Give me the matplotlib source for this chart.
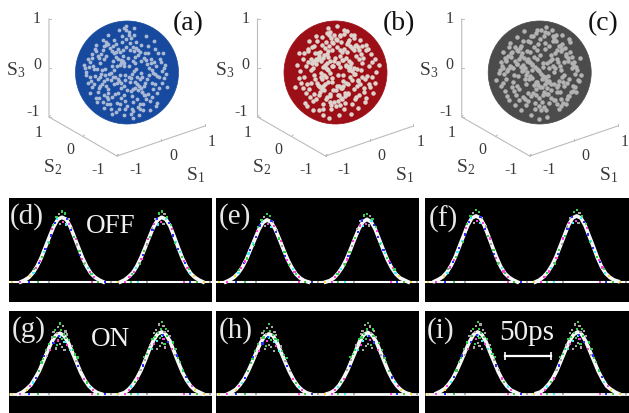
import matplotlib
matplotlib.use("Agg")
import matplotlib.pyplot as plt
from matplotlib.patches import Circle

plt.rcParams['font.family'] = ['Liberation Serif', 'DejaVu Serif']
plt.rcParams['mathtext.fontset'] = 'custom'
plt.rcParams['mathtext.rm'] = 'Liberation Serif'
plt.rcParams['mathtext.it'] = 'Liberation Serif'

W, H = 629, 413

# ---------- Poincare sphere data ----------
tick_values = [-1, 0, 1]
sphere_labels = ['(a)', '(b)', '(c)']

# light gaps on each sphere, percent of radius (x right, y up)
gaps_a = [(-11,18),(-8,22),(-14,14),(-5,12),(54,-3),(58,-6),(50,-1),(12,-33),(16,-30),(8,-35),(34,-44),(30,-38),(27,-31),
 (18,47),(22,44),(26,40),(12,50),(-1,82),(3,78),(-5,86),(-40,60),(-36,56),(-44,52),(-30,41),(-25,37),(-21,30),(-17,27),
 (-61,42),(-57,33),(-67,29),(-73,11),(-65,7),(-59,6),(-51,-3),(-43,-5),(-39,-12),(-31,-1),(-23,-9),(-17,-13),(-11,-21),
 (-3,-15),(3,-9),(9,-3),(13,3),(66,21),(71,9),(75,-3),(-79,-5),(-81,9),(31,-61),(21,-67),(11,-75),(7,-81),(-3,-71),(-13,-61),
 (-29,-47),(-37,-39),(-53,-27),(-69,-17),(-55,-49),(-47,-57),(-39,-61),(-31,-71),(-21,-77)]

gaps_b = [(-18,8),(-14,4),(-10,0),(-20,14),(-24,10),(28,6),(32,2),(24,10),(36,8),(20,14),(38,-2),(10,-30),(14,-26),(-30,-28),(-26,-32),
 (-34,-24),(-42,22),(-46,18),(-38,26),(-33,33),(-31,39),(-21,47),(-13,51),(-7,59),(3,63),(9,73),(17,75),(23,81),(31,73),(35,67),
 (-27,69),(-17,77),(-11,79),(-35,61),(-45,49),(-53,41),(4,18),(-2,22),(-6,12),(2,-26),(-4,-34),(-10,-42),(-16,-48),(6,-44),(12,-52),(18,-46),
 (24,-40),(-2,-58),(-8,-64),(8,-64),(44,50),(52,52),(60,44),(38,52),(24,60),(14,24),(20,28),(30,18),(8,10),(44,-14),(-22,-4),(-16,36),(-24,28),(36,44)]

gaps_c = [(-10,10),(-6,6),(-2,2),(-14,14),(2,-2),(6,-7),(11,-9),(13,-15),(19,-17),(21,-23),(-18,20),(-23,27),(-31,29),(-35,37),(-43,41),
 (-47,49),(-53,39),(-61,33),(-65,25),(-73,13),(-77,5),(-69,-3),(-63,3),(-55,11),(-45,17),(-37,11),(-33,5),(-25,1),(-19,-7),(-15,-11),
 (-7,-19),(-3,-25),(5,-29),(9,-37),(17,-41),(21,-49),(29,-53),(33,-61),(41,-65),(45,-59),(53,-51),(57,-45),(65,-35),(69,-29),(77,-17),
 (81,-5),(73,5),(67,13),(63,19),(55,29),(51,35),(43,45),(39,51),(31,61),(27,67),(17,77),(11,79),(3,83),(-7,77),(-13,71),(-23,61)]
sphere_gaps = [gaps_a, gaps_b, gaps_c]

# further gaps, irregular field shared across the spheres with a flip per sphere
gaps_field = [(-47,63),(-13,39),(37,71),(-71,21),(5,57),(61,37),(-29,13),(43,9),(-57,-13),(19,-9),(-5,-43),(33,-27),(-41,-27),(71,-11),(-19,-59),(49,-47),
 (15,31),(-33,47),(-63,45),(27,53),(-9,71),(57,13),(-49,5),(1,29),(39,-13),(-25,-23),(11,-57),(-67,-29),(25,-71),(63,-31),(-37,-51),(-79,1),
 (-2,49),(47,27),(-22,56),(34,38),(-54,28),(8,67),(-40,32),(68,3),(-28,-8),(22,-34),(-12,-31),(41,-41),(-62,-6),(-6,-83),(55,-23),(-45,-43),
 (17,6),(-35,-2),(29,-9),(-8,33),(-18,-39),(6,-18),(46,18),(-52,18),(-71,-9),(36,24),(-26,64),(14,41),(3,73),(-60,54),(74,14),(59,-59),
 (-16,-70),(37,-51),(-44,-68),(12,-88),(-30,-80),(24,-82),(44,-72),(-76,-20),(-84,14),(78,-28),(70,38),(-68,36),(52,62),(-16,82),(14,86),(-36,72),
 (28,22),(-4,-4),(20,-22),(-44,-16),(-12,25),(33,-44),(-27,22),(10,-45),(-50,36),(42,-4),(-20,-20),(26,-12),(48,4),(-36,-32),(0,-66),(62,-8),
 (18,60),(-10,60),(-56,-37),(32,-72),(-24,-42),(54,46),(6,44),(-42,7),(-66,12),(67,-21),(-4,-56),(40,38),(-17,46),(24,-26),(-32,-15),(58,-40),
 (-48,-22),(4,12),(16,18),(-6,-27),(30,-37),(-14,-5),(11,23),(-40,54),(-1,65),(48,-20),(-22,40),(9,-71),(-58,-58),(-8,43),(22,34),(35,-20),
 (-39,-47),(-72,-40),(51,-33),(-33,-62),(41,51),(-52,-8),(-26,4),(7,-10),(28,-1),(-11,-50),(19,-52),(64,26),(-76,26),(-46,44),(13,72),(-2,90),
 (-28,52),(44,-56),(-60,-50),(56,-65),(-20,12),(38,16),(-15,-16),(0,-34),(-45,26),(25,-62),(-55,-31),(-65,-22),(15,-19),(33,29),(-5,18),(53,21)]
field_flip = [(1, 1), (-1, 1), (1, -1)]

# ---------- Pulse trace data ----------
panel_labels = ['(d)', '(e)', '(f)', '(g)', '(h)', '(i)']
offset_ps = [-45,-40.5,-36,-31.5,-27,-22.5,-18,-13.5,-9,-4.5,0,4.5,9,13.5,18,22.5,27,31.5,36,40.5,45]
peak_times = [(57.6,166.0),(55.4,164.1),(55.4,164.9),(55.4,166.0),(57.6,165.2),(57.3,166.0)]
pulse_d1 = [0,.03,.07,.14,.24,.37,.53,.69,.84,.95,.98,.95,.84,.68,.52,.36,.23,.13,.07,.03,0]
pulse_d2 = [0,.03,.08,.14,.24,.37,.52,.68,.83,.94,.98,.95,.85,.69,.52,.36,.23,.13,.07,.03,0]
pulse_e1 = [0,.03,.07,.13,.22,.34,.49,.64,.79,.90,.94,.91,.80,.65,.49,.34,.22,.12,.06,.02,0]
pulse_e2 = [0,.02,.06,.13,.22,.34,.49,.65,.80,.91,.95,.91,.80,.64,.48,.33,.21,.12,.06,.03,0]
pulse_f1 = [.01,.04,.08,.15,.25,.38,.54,.70,.86,.97,1.0,.97,.86,.70,.53,.37,.23,.13,.07,.03,0]
pulse_f2 = [0,.03,.08,.15,.25,.38,.54,.70,.86,.97,1.0,.97,.86,.70,.54,.37,.23,.13,.07,.03,.01]
pulse_g1 = [0,.03,.08,.14,.24,.35,.50,.65,.79,.89,.92,.88,.78,.63,.48,.33,.21,.12,.06,.02,0]
pulse_g2 = [0,.02,.07,.14,.24,.36,.51,.67,.81,.91,.94,.90,.80,.64,.48,.33,.21,.12,.06,.03,0]
pulse_h1 = [0,.03,.07,.14,.23,.35,.49,.64,.78,.88,.91,.88,.77,.62,.47,.33,.21,.12,.06,.02,0]
pulse_h2 = [0,.02,.06,.13,.23,.35,.50,.65,.80,.90,.93,.89,.79,.64,.48,.33,.21,.12,.06,.02,0]
pulse_i1 = [.01,.04,.08,.15,.24,.36,.50,.65,.79,.90,.94,.90,.79,.63,.48,.33,.21,.12,.06,.03,0]
pulse_i2 = [.01,.03,.08,.15,.24,.36,.51,.66,.80,.90,.94,.90,.79,.64,.49,.34,.22,.12,.07,.03,0]
pulses = [(pulse_d1,pulse_d2),(pulse_e1,pulse_e2),(pulse_f1,pulse_f2),
          (pulse_g1,pulse_g2),(pulse_h1,pulse_h2),(pulse_i1,pulse_i2)]

# noise specks round a peak: (offset ps, amplitude, colour)
G, B, M, Y, C, K, D = '#35d050', '#2a30ff', '#ff40e0', '#f0e040', '#40f0ff', '#a8a8a8', '#000000'
specks_off = [(0,1.09,G),(-3,1.05,K),(3,1.06,G),(-6,1.0,G),(7,.97,K),(1,.93,M),(-2,.90,K),(4,.89,C),(-10,.88,G),(11,.84,K),
 (-12,.72,B),(13,.70,G),(-15,.62,C),(16,.58,K),(-18,.51,B),(19,.48,G),(-22,.38,G),(22,.36,M),(-25,.30,B),(25,.29,K),
 (-28,.22,M),(28,.21,C),(-31,.14,C),(32,.13,G),(-35,.09,Y),(35,.08,M),(5,.98,B),(-5,.97,C),(-8,.91,B),(8,.90,M),
 (-14,.60,G),(-11,.82,M),(10,.80,B),(15,.66,M),(-20,.46,C),(20,.42,B),(-24,.33,M),(24,.28,G),(-30,.20,G),(30,.16,M)]
specks_on = [(0,1.16,G),(-2,1.10,K),(3,1.12,K),(1,1.05,G),(-5,1.05,G),(6,1.03,K),(-3,1.0,K),(4,.98,G),(0,.94,C),(-6,.94,G),(7,.92,G),
 (0,.82,K),(2,.78,K),(-3,.80,G),(-9,.93,K),(10,.89,G),(-12,.83,G),(13,.79,K),(-15,.72,G),(16,.65,G),(-17,.62,B),(18,.55,K),(-20,.52,G),
 (20,.46,B),(-23,.38,G),(23,.39,K),(-26,.27,B),(26,.25,M),(-29,.19,C),(29,.19,G),(-33,.13,M),(33,.12,C),(-36,.07,Y),(36,.07,M),(-7,.84,B),
 (8,.80,M),(-11,.72,M),(11,.72,C),(-14,.63,K),(14,.72,G),(-2,.88,M),(5,.86,C),(-7,1.02,K),(8,.98,K),(-4,.75,K),(5,.72,K),(-18,.58,G),(19,.60,G),(-1,.95,B),(2,.90,G)]
baseline_times = [3,12,22,31,44,90,97,104,111,118,126,133,140,150,190,197,204,212,218]
baseline_cols = [Y,M,B,G,K,M,G,B,K,Y,M,G,C,K,M,B,G,Y,K]

# ---------- Helpers ----------
fig = plt.figure(figsize=(W/100, H/100), dpi=100, facecolor='white')

def put(x, y, s, **kw):
    kw.setdefault('ha', 'center'); kw.setdefault('va', 'center')
    fig.text(x/W, 1-y/H, s, **kw)

def proj(s1, s2, s3):
    return (49 + (s1+1)*44 + (1-s2)*34, 117 - (s3+1)*49 - (s1+1)*15 + (1-s2)*19.5)

# ---------- Spheres ----------
offsets = [0, 208.5, 412.7]
face = ['#174a9f', '#9c0f17', '#4b4b4b']
light = ['#a9b8d4', '#ddd2cc', '#b2b2b2']
sizes = [7.5, 10.5, 10.5]
for k in range(3):
    ax = fig.add_axes([offsets[k]/W, 1-195/H, 208/W, 195/H])
    ax.set_xlim(0, 208); ax.set_ylim(195, 0); ax.axis('off')
    cx, cy = proj(0, 0, 0); R = 51.5
    ax.add_patch(Circle((cx, cy), R, fc=face[k], ec=face[k], lw=0.5))
    fx, fy = field_flip[k]
    pts = sphere_gaps[k] + [(g[0]*fx, g[1]*fy) for g in gaps_field]
    ax.scatter([cx + g[0]/100*R for g in pts], [cy - g[1]/100*R for g in pts],
               s=sizes[k], c=light[k], linewidths=0)
    frame = [proj(-1,1,1), proj(-1,1,-1), proj(-1,-1,-1), proj(1,-1,-1)]
    ax.plot([p[0] for p in frame], [p[1] for p in frame], color='#bcbcbc', lw=0.8, clip_on=False)
    ox = offsets[k]
    for v in tick_values:
        for a, b in [(proj(-1,1,v), (2,0)), (proj(-1,v,-1), (1.5,-1.5)), (proj(v,-1,-1), (0,-2))]:
            ax.plot([a[0], a[0]+b[0]], [a[1], a[1]+b[1]], color='#bcbcbc', lw=0.7)
    tc = '#3a3a3a'
    for v, (x, y) in zip(tick_values, [(33,112),(37,65),(37,19)]):
        put(ox+x, y, str(v), fontsize=11.5, color=tc)
    for v, (x, y) in zip(tick_values, [(98,170),(70,150),(39,133)]):
        put(ox+x, y, str(v), fontsize=11.5, color=tc)
    for v, (x, y) in zip(tick_values, [(136,170),(173,156),(212,142)]):
        put(ox+x, y, str(v), fontsize=11.5, color=tc)
    put(ox+16, 70, r'S$_{3}$', fontsize=14, color=tc)
    put(ox+53, 167, r'S$_{2}$', fontsize=14, color=tc)
    put(ox+196, 175, r'S$_{1}$', fontsize=14, color=tc)
    put([188, 399, 603][k], 24, sphere_labels[k], fontsize=20, color='#111111')

# ---------- Pulse panels ----------
boxes = [(9,212,198,302,282),(216,419,198,302,282),(425,629,198,302,282),
         (9,212,311,413,394),(216,419,311,413,394),(425,629,311,413,394)]
label_xy = [(27,217),(235,217),(443,219),(29,330),(236,331),(441,331)]
PX_PS = 46/50; PX_AMP = 66
for k, (x0, x1, y0, y1, base) in enumerate(boxes):
    ax = fig.add_axes([x0/W, 1-y1/H, (x1-x0)/W, (y1-y0)/H])
    ax.set_facecolor('black')
    ax.set_xlim(0, (x1-x0)/PX_PS)
    ax.set_ylim(-(y1-base)/PX_AMP, (base-y0)/PX_AMP)
    ax.set_xticks([]); ax.set_yticks([])
    for s in ax.spines.values():
        s.set_visible(False)
    on = k >= 3
    ax.plot([0, (x1-x0)/PX_PS], [0, 0], color='white', lw=2.0 if on else 1.5, solid_capstyle='butt')
    specks = specks_on if on else specks_off
    for n, (tp, amp) in enumerate(zip(peak_times[k], pulses[k])):
        sign = -1 if n else 1
        ax.plot([tp+o for o in offset_ps], amp, color='white', lw=2.7, solid_joinstyle='round', alpha=0.97)
        ax.scatter([tp+sign*s[0] for s in specks], [s[1]*max(amp) for s in specks],
                   c=[s[2] for s in specks], marker='s', s=2.4, linewidths=0, zorder=3)
    ax.scatter(baseline_times, [0.0]*len(baseline_times), c=baseline_cols, marker='s', s=2.0, linewidths=0, zorder=3)
    put(label_xy[k][0], label_xy[k][1], panel_labels[k], fontsize=21, color='#e6e6e6')

put(111, 226, 'OFF', fontsize=19.5, color='#f0f0f0')
put(110, 339, 'ON', fontsize=19.5, color='#f0f0f0')
put(527, 333, '50ps', fontsize=21, color='#f0f0f0')
bar = fig.axes[-1]
bar.plot([87, 137], [0.58, 0.58], color='white', lw=1.6, marker='|', ms=6, mew=1.2, zorder=5)

fig.savefig('out.png', dpi=100, facecolor='white')
